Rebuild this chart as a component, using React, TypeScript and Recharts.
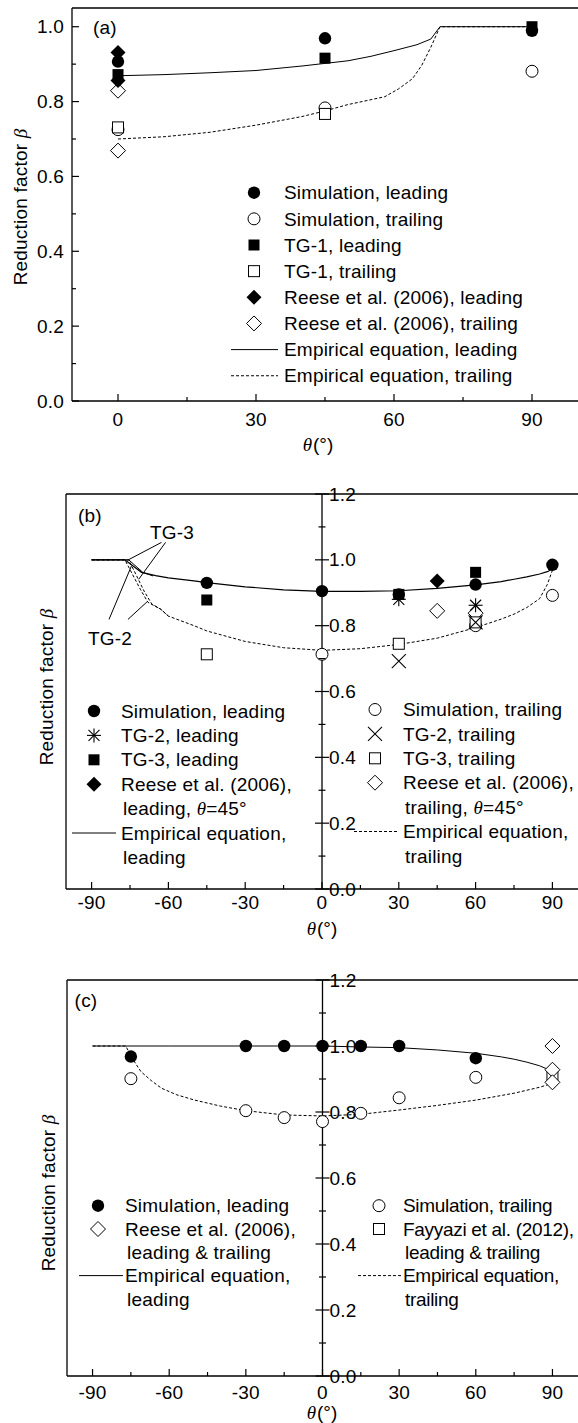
import React from "react";
import {
  ComposedChart,
  Line,
  Scatter,
  XAxis,
  YAxis,
  ReferenceLine,
  Legend,
} from "recharts";

const SANS = "'Liberation Sans', Arial, Helvetica, sans-serif";
const SERIF = "'Liberation Serif', 'DejaVu Serif', 'Times New Roman', serif";
const FS = 19;
const LS = 0.2;
const INK = "#000";
const DASH = "3 2";

// ---------- panel (a) ----------
const A_X_TICKS = [0, 15, 30, 45, 60, 75, 90];
const A_Y_TICKS = [0, 0.1, 0.2, 0.3, 0.4, 0.5, 0.6, 0.7, 0.8, 0.9, 1.0];
const A_THETA = [0, 45, 90];
const A_SIM_LEAD = [0.907, 0.969, 0.989];
const A_SIM_TRAIL = [0.725, 0.783, 0.881];
const A_TG1_LEAD = [0.872, 0.916, 1.0];
const A_TG1_TRAIL_THETA = [0, 45];
const A_TG1_TRAIL = [0.731, 0.767];
const A_REESE_THETA = [0, 0];
const A_REESE_LEAD = [0.931, 0.856];
const A_REESE_TRAIL = [0.829, 0.669];
const A_EMP_LEAD_THETA = [0, 10, 20, 30, 40, 45, 50, 55, 60, 65, 68, 70, 80, 90];
const A_EMP_LEAD = [0.869, 0.872, 0.877, 0.883, 0.895, 0.902, 0.909, 0.921, 0.936, 0.952, 0.967, 1.0, 1.0, 1.0];
const A_EMP_TRAIL_THETA = [0, 10, 20, 30, 40, 45, 50, 55, 58, 61, 64, 66, 68, 70, 80, 90];
const A_EMP_TRAIL = [0.7, 0.706, 0.718, 0.737, 0.76, 0.775, 0.792, 0.805, 0.813, 0.834, 0.861, 0.896, 0.945, 1.0, 1.0, 1.0];

// ---------- panel (b) ----------
const BC_X_TICKS = [-90, -75, -60, -45, -30, -15, 0, 15, 30, 45, 60, 75, 90];
const BC_Y_TICKS = [0, 0.1, 0.2, 0.3, 0.4, 0.5, 0.6, 0.7, 0.8, 0.9, 1.0, 1.1, 1.2];
const B_SIM_THETA = [-45, 0, 30, 60, 90];
const B_SIM_LEAD = [0.93, 0.905, 0.895, 0.925, 0.985];
const B_SIM_TRAIL_THETA = [0, 60, 90];
const B_SIM_TRAIL = [0.713, 0.8, 0.892];
const B_TG2_THETA = [30, 60];
const B_TG2_LEAD = [0.88, 0.862];
const B_TG2_TRAIL = [0.692, 0.81];
const B_TG3_THETA = [-45, 30, 60];
const B_TG3_LEAD = [0.878, 0.895, 0.962];
const B_TG3_TRAIL = [0.713, 0.745, 0.81];
const B_REESE_LEAD_THETA = [45];
const B_REESE_LEAD = [0.936];
const B_REESE_TRAIL_THETA = [45, 60];
const B_REESE_TRAIL = [0.845, 0.838];
const B_EMP_LEAD_THETA = [-90, -77, -70.5, -65, -60, -50, -45, -30, -15, 0, 15, 30, 45, 60, 70, 75, 80, 85, 88, 90];
const B_EMP_LEAD = [1.0, 1.0, 0.962, 0.952, 0.945, 0.936, 0.931, 0.918, 0.909, 0.904, 0.904, 0.906, 0.913, 0.924, 0.934, 0.941, 0.948, 0.957, 0.964, 0.972];
const B_EMP_LEAD2_THETA = [-90, -75.5, -70, -66];
const B_EMP_LEAD2 = [1.0, 1.0, 0.962, 0.951];
const B_EMP_TRAIL_THETA = [-90, -77, -71, -68, -63, -60, -50, -45, -30, -15, 0, 15, 30, 45, 60, 70, 75, 80, 85, 88, 90];
const B_EMP_TRAIL = [1.0, 1.0, 0.911, 0.871, 0.85, 0.829, 0.8, 0.784, 0.752, 0.733, 0.725, 0.73, 0.743, 0.762, 0.794, 0.82, 0.835, 0.855, 0.882, 0.925, 0.968];
const B_EMP_TRAIL2_THETA = [-90, -75.5, -69.5, -66.5, -63, -60];
const B_EMP_TRAIL2 = [1.0, 1.0, 0.905, 0.866, 0.85, 0.829];

// ---------- panel (c) ----------
const C_SIM_THETA = [-75, -30, -15, 0, 15, 30, 60];
const C_SIM_LEAD = [0.968, 1.0, 1.0, 1.0, 1.0, 1.0, 0.963];
const C_SIM_TRAIL = [0.901, 0.804, 0.783, 0.771, 0.796, 0.843, 0.905];
const C_REESE_THETA = [90, 90, 90];
const C_REESE = [1.0, 0.928, 0.89];
const C_FAY_THETA = [90];
const C_FAY = [0.907];
const C_EMP_LEAD_THETA = [-90, -60, -30, 0, 15, 30, 45, 60, 70, 75, 80, 85, 88, 90];
const C_EMP_LEAD = [1.0, 1.0, 1.0, 1.0, 0.997, 0.995, 0.988, 0.978, 0.967, 0.96, 0.951, 0.94, 0.93, 0.922];
const C_EMP_TRAIL_THETA = [-90, -77, -75, -73, -71, -67, -63, -57, -50, -40, -30, -15, 0, 15, 30, 45, 60, 75, 85, 88, 90];
const C_EMP_TRAIL = [1.0, 1.0, 0.97, 0.945, 0.922, 0.895, 0.872, 0.852, 0.836, 0.818, 0.804, 0.791, 0.788, 0.793, 0.806, 0.82, 0.836, 0.857, 0.875, 0.882, 0.892];

// leader lines of the TG-2 / TG-3 callouts, in data units
const TG3_LEADERS = [
  [[-62.7, 1.053], [-75.9, 0.999]],
  [[-61.1, 1.053], [-71.6, 0.941]],
];
const TG2_LEADERS = [
  [[-83.2, 0.819], [-74.4, 0.982]],
  [[-75.8, 0.819], [-68.4, 0.872]],
];

type Kind = "dot" | "ring" | "sq" | "box" | "dia" | "rhomb" | "star" | "cross";
type RowMark = Kind | "solid" | "dashed";
type Row = { mark: RowMark; lines: string[] };

const A_LEGEND: Row[] = [
  { mark: "dot", lines: ["Simulation, leading"] },
  { mark: "ring", lines: ["Simulation, trailing"] },
  { mark: "sq", lines: ["TG-1, leading"] },
  { mark: "box", lines: ["TG-1, trailing"] },
  { mark: "dia", lines: ["Reese et al. (2006), leading"] },
  { mark: "rhomb", lines: ["Reese et al. (2006), trailing"] },
  { mark: "solid", lines: ["Empirical equation, leading"] },
  { mark: "dashed", lines: ["Empirical equation, trailing"] },
];
const B_LEGEND_L: Row[] = [
  { mark: "dot", lines: ["Simulation, leading"] },
  { mark: "star", lines: ["TG-2, leading"] },
  { mark: "sq", lines: ["TG-3, leading"] },
  { mark: "dia", lines: ["Reese et al. (2006),", "leading, θ=45°"] },
  { mark: "solid", lines: ["Empirical equation,", "leading"] },
];
const B_LEGEND_R: Row[] = [
  { mark: "ring", lines: ["Simulation, trailing"] },
  { mark: "cross", lines: ["TG-2, trailing"] },
  { mark: "box", lines: ["TG-3, trailing"] },
  { mark: "rhomb", lines: ["Reese et al. (2006),", "trailing, θ=45°"] },
  { mark: "dashed", lines: ["Empirical equation,", "trailing"] },
];
const C_LEGEND_L: Row[] = [
  { mark: "dot", lines: ["Simulation, leading"] },
  { mark: "rhomb", lines: ["Reese et al. (2006),", "leading & trailing"] },
  { mark: "solid", lines: ["Empirical equation,", "leading"] },
];
const C_LEGEND_R: Row[] = [
  { mark: "ring", lines: ["Simulation, trailing"] },
  { mark: "box", lines: ["Fayyazi et al. (2012),", "leading & trailing"] },
  { mark: "dashed", lines: ["Empirical equation,", "trailing"] },
];

const pts = (xs: number[], ys: number[]) => xs.map((x, i) => ({ x, y: ys[i] }));
const onStep = (v: number, step: number) => Math.abs(v / step - Math.round(v / step)) < 1e-6;

function Mark({ kind, cx, cy }: { kind: Kind; cx: number; cy: number }) {
  const s = 5.5;
  const d = 7.5;
  switch (kind) {
    case "dot":
      return <circle cx={cx} cy={cy} r={6.2} fill={INK} />;
    case "ring":
      return <circle cx={cx} cy={cy} r={6} fill="#fff" stroke={INK} strokeWidth={1} />;
    case "sq":
      return <rect x={cx - s} y={cy - s} width={2 * s} height={2 * s} fill={INK} />;
    case "box":
      return <rect x={cx - s} y={cy - s} width={2 * s} height={2 * s} fill="#fff" stroke={INK} strokeWidth={1} />;
    case "dia":
      return <path d={`M${cx},${cy - d}L${cx + d},${cy}L${cx},${cy + d}L${cx - d},${cy}Z`} fill={INK} />;
    case "rhomb":
      return (
        <path
          d={`M${cx},${cy - d}L${cx + d},${cy}L${cx},${cy + d}L${cx - d},${cy}Z`}
          fill="#fff"
          stroke={INK}
          strokeWidth={1}
        />
      );
    case "star":
      return (
        <g stroke={INK} strokeWidth={1.1}>
          <line x1={cx - 7} x2={cx + 7} y1={cy} y2={cy} />
          <line x1={cx} x2={cx} y1={cy - 7} y2={cy + 7} />
          <line x1={cx - 5.5} x2={cx + 5.5} y1={cy - 5.5} y2={cy + 5.5} />
          <line x1={cx - 5.5} x2={cx + 5.5} y1={cy + 5.5} y2={cy - 5.5} />
        </g>
      );
    default:
      return (
        <g stroke={INK} strokeWidth={1.1}>
          <line x1={cx - 7} x2={cx + 7} y1={cy - 7} y2={cy + 7} />
          <line x1={cx - 7} x2={cx + 7} y1={cy + 7} y2={cy - 7} />
        </g>
      );
  }
}

const shapeOf = (kind: Kind) => (p: any) => <Mark kind={kind} cx={p.cx} cy={p.cy} />;

// text with an italic serif theta
function rich(str: string) {
  return str.split(/(θ)/).map((part, i) =>
    part === "θ" ? (
      <tspan key={i} fontFamily={SERIF} fontStyle="italic">
        θ
      </tspan>
    ) : (
      <tspan key={i}>{part}</tspan>
    )
  );
}

function LegendRows(props: {
  rows: Row[];
  top: number;
  step: number;
  markX: number;
  textX: number;
  lineX1: number;
  lineX2: number;
  spacing?: number;
}) {
  const { rows, top, step, markX, textX, lineX1, lineX2, spacing = LS } = props;
  let n = 0;
  return (
    <g>
      {rows.map((r, i) => {
        const y0 = top + n * step;
        n += r.lines.length;
        return (
          <g key={i}>
            {r.mark === "solid" || r.mark === "dashed" ? (
              <line
                x1={lineX1}
                x2={lineX2}
                y1={y0}
                y2={y0}
                stroke={INK}
                strokeWidth={1}
                strokeDasharray={r.mark === "dashed" ? DASH : undefined}
              />
            ) : (
              <Mark kind={r.mark} cx={markX} cy={y0} />
            )}
            {r.lines.map((t, j) => (
              <text
                key={j}
                x={textX + (j ? 2 : 0)}
                y={y0 + j * step}
                dy="0.35em"
                fontFamily={SANS}
                fontSize={FS}
                letterSpacing={spacing}
                fill={INK}
              >
                {rich(t)}
              </text>
            ))}
          </g>
        );
      })}
    </g>
  );
}

function Overlay({ w, h, children }: { w: number; h: number; children: React.ReactNode }) {
  return (
    <svg width={w} height={h} style={{ position: "absolute", left: 0, top: 0, overflow: "visible" }}>
      {children}
    </svg>
  );
}

const yInTick = (props: any) => {
  const { x, y, payload } = props;
  const v = payload.value as number;
  const major = onStep(v, 0.2);
  return (
    <g>
      <line x1={x} x2={x + (major ? 7 : 4)} y1={y} y2={y} stroke={INK} strokeWidth={1.2} />
      {major && (
        <text x={x - 8} y={y} dy="0.35em" textAnchor="end" fontFamily={SANS} fontSize={FS} letterSpacing={LS} fill={INK}>
          {v.toFixed(1)}
        </text>
      )}
    </g>
  );
};

const yMidTick = (offset: number) => (props: any) => {
  const { x, y, payload } = props;
  const v = payload.value as number;
  const major = onStep(v, 0.2);
  const X = x + offset;
  const len = major ? 7 : 3.5;
  return (
    <g>
      <line x1={X - len} x2={X + len} y1={y} y2={y} stroke={INK} strokeWidth={1.2} />
      {major && (
        <text x={X + 7} y={y} dy="0.35em" fontFamily={SANS} fontSize={FS} letterSpacing={LS} fill={INK}>
          {v.toFixed(1)}
        </text>
      )}
    </g>
  );
};

const xTick = (gap: number) => (props: any) => {
  const { x, y, payload } = props;
  const v = payload.value as number;
  const major = onStep(v, 30);
  return (
    <g>
      <line x1={x} x2={x} y1={y} y2={y - (major ? 7 : 4)} stroke={INK} strokeWidth={1.2} />
      {major && (
        <text x={x} y={y + gap} dy="0.35em" textAnchor="middle" fontFamily={SANS} fontSize={FS} letterSpacing={LS} fill={INK}>
          {v}
        </text>
      )}
    </g>
  );
};

const yTitle = (x: number, y: number) => () =>
  (
    <text
      x={x}
      y={y}
      transform={`rotate(-90 ${x} ${y})`}
      textAnchor="middle"
      dy="0.35em"
      fontFamily={SANS}
      fontSize={FS}
      letterSpacing={LS}
      fill={INK}
    >
      Reduction factor{" "}
      <tspan fontFamily={SERIF} fontStyle="italic">
        β
      </tspan>
    </text>
  );

const xTitle = (x: number, y: number) => () =>
  (
    <text x={x} y={y} dy="0.35em" textAnchor="middle" fontSize={FS} fill={INK}>
      <tspan fontFamily={SERIF} fontStyle="italic">
        θ
      </tspan>
      <tspan fontFamily={SANS} dx={1}>
        (°)
      </tspan>
    </text>
  );

const letter = (x: number, y: number, s: string) => (
  <text x={x} y={y} dy="0.35em" textAnchor="middle" fontFamily={SANS} fontSize={FS} letterSpacing={LS} fill={INK}>
    {s}
  </text>
);

const frame = { stroke: INK, strokeWidth: 1.3 };

function PanelA() {
  return (
    <ComposedChart width={578} height={460} margin={{ top: 8, right: 0, bottom: 0, left: 0 }}>
      <XAxis
        type="number"
        dataKey="x"
        domain={[-10, 100]}
        ticks={A_X_TICKS}
        interval={0}
        tickSize={0}
        tickMargin={0}
        tick={xTick(18)}
        axisLine={frame}
        height={59}
        label={xTitle(318, 444)}
      />
      <YAxis
        type="number"
        dataKey="y"
        domain={[0, 1.05]}
        ticks={A_Y_TICKS}
        interval={0}
        tickSize={0}
        tickMargin={0}
        tick={yInTick}
        axisLine={frame}
        width={72}
        label={yTitle(20, 207)}
      />
      <ReferenceLine y={1.05} stroke={INK} strokeWidth={1.3} />
      <Line data={pts(A_EMP_LEAD_THETA, A_EMP_LEAD)} dataKey="y" type="linear" stroke={INK} strokeWidth={1} dot={false} activeDot={false} isAnimationActive={false} />
      <Line data={pts(A_EMP_TRAIL_THETA, A_EMP_TRAIL)} dataKey="y" type="linear" stroke={INK} strokeWidth={1} strokeDasharray={DASH} dot={false} activeDot={false} isAnimationActive={false} />
      <Scatter data={pts(A_REESE_THETA, A_REESE_TRAIL)} shape={shapeOf("rhomb")} isAnimationActive={false} />
      <Scatter data={pts(A_THETA, A_SIM_TRAIL)} shape={shapeOf("ring")} isAnimationActive={false} />
      <Scatter data={pts(A_TG1_TRAIL_THETA, A_TG1_TRAIL)} shape={shapeOf("box")} isAnimationActive={false} />
      <Scatter data={pts(A_REESE_THETA, A_REESE_LEAD)} shape={shapeOf("dia")} isAnimationActive={false} />
      <Scatter data={pts(A_THETA, A_SIM_LEAD)} shape={shapeOf("dot")} isAnimationActive={false} />
      <Scatter data={pts(A_THETA, A_TG1_LEAD)} shape={shapeOf("sq")} isAnimationActive={false} />
      <Legend
        layout="vertical"
        align="center"
        verticalAlign="middle"
        wrapperStyle={{ left: 0, top: 0, width: 578, height: 460 }}
        content={() => (
          <Overlay w={578} h={460}>
            {letter(105, 27, "(a)")}
            <LegendRows rows={A_LEGEND} top={192.7} step={26.15} markX={254} textX={284} lineX1={231} lineX2={278} />
          </Overlay>
        )}
      />
    </ComposedChart>
  );
}

function PanelB() {
  const W = 578;
  const H = 470;
  const left = 66;
  return (
    <ComposedChart width={W} height={H} margin={{ top: 24, right: 0, bottom: 0, left: 0 }}>
      <XAxis
        type="number"
        dataKey="x"
        domain={[-100, 100]}
        ticks={BC_X_TICKS}
        interval={0}
        tickSize={0}
        tickMargin={0}
        tick={xTick(13)}
        axisLine={frame}
        height={51}
        label={xTitle(322, 458)}
      />
      <YAxis
        type="number"
        dataKey="y"
        domain={[0, 1.2]}
        ticks={BC_Y_TICKS}
        interval={0}
        tickSize={0}
        tickMargin={0}
        tick={yMidTick((W - left) / 2)}
        axisLine={frame}
        width={left}
        label={yTitle(46, 217)}
      />
      <ReferenceLine y={1.2} stroke={INK} strokeWidth={1.3} />
      <ReferenceLine x={0} stroke={INK} strokeWidth={1.3} />
      {TG3_LEADERS.concat(TG2_LEADERS).map((seg, i) => (
        <ReferenceLine
          key={i}
          segment={[
            { x: seg[0][0], y: seg[0][1] },
            { x: seg[1][0], y: seg[1][1] },
          ]}
          stroke={INK}
          strokeWidth={1}
        />
      ))}
      <Line data={pts(B_EMP_LEAD_THETA, B_EMP_LEAD)} dataKey="y" type="linear" stroke={INK} strokeWidth={1.2} dot={false} activeDot={false} isAnimationActive={false} />
      <Line data={pts(B_EMP_LEAD2_THETA, B_EMP_LEAD2)} dataKey="y" type="linear" stroke={INK} strokeWidth={1} dot={false} activeDot={false} isAnimationActive={false} />
      <Line data={pts(B_EMP_TRAIL_THETA, B_EMP_TRAIL)} dataKey="y" type="linear" stroke={INK} strokeWidth={1} strokeDasharray={DASH} dot={false} activeDot={false} isAnimationActive={false} />
      <Line data={pts(B_EMP_TRAIL2_THETA, B_EMP_TRAIL2)} dataKey="y" type="linear" stroke={INK} strokeWidth={1} strokeDasharray={DASH} dot={false} activeDot={false} isAnimationActive={false} />
      <Scatter data={pts(B_SIM_TRAIL_THETA, B_SIM_TRAIL)} shape={shapeOf("ring")} isAnimationActive={false} />
      <Scatter data={pts(B_REESE_TRAIL_THETA, B_REESE_TRAIL)} shape={shapeOf("rhomb")} isAnimationActive={false} />
      <Scatter data={pts(B_TG3_THETA, B_TG3_TRAIL)} shape={shapeOf("box")} isAnimationActive={false} />
      <Scatter data={pts(B_TG2_THETA, B_TG2_TRAIL)} shape={shapeOf("cross")} isAnimationActive={false} />
      <Scatter data={pts(B_TG2_THETA, B_TG2_LEAD)} shape={shapeOf("star")} isAnimationActive={false} />
      <Scatter data={pts(B_TG3_THETA, B_TG3_LEAD)} shape={shapeOf("sq")} isAnimationActive={false} />
      <Scatter data={pts(B_REESE_LEAD_THETA, B_REESE_LEAD)} shape={shapeOf("dia")} isAnimationActive={false} />
      <Scatter data={pts(B_SIM_THETA, B_SIM_LEAD)} shape={shapeOf("dot")} isAnimationActive={false} />
      <Legend
        layout="vertical"
        align="center"
        verticalAlign="middle"
        wrapperStyle={{ left: 0, top: 0, width: W, height: H }}
        content={() => (
          <Overlay w={W} h={H}>
            {letter(90, 45, "(b)")}
            {letter(172, 62, "TG-3")}
            {letter(110, 168, "TG-2")}
            <LegendRows rows={B_LEGEND_L} top={241} step={24.4} markX={94} textX={121} lineX1={72} lineX2={116} />
            <LegendRows rows={B_LEGEND_R} top={239.5} step={24.4} markX={375} textX={403} lineX1={354} lineX2={398} />
          </Overlay>
        )}
      />
    </ComposedChart>
  );
}

function PanelC() {
  const W = 578;
  const H = 473;
  const left = 67;
  return (
    <ComposedChart width={W} height={H} margin={{ top: 30, right: 0, bottom: 0, left: 0 }}>
      <XAxis
        type="number"
        dataKey="x"
        domain={[-100, 100]}
        ticks={BC_X_TICKS}
        interval={0}
        tickSize={0}
        tickMargin={0}
        tick={xTick(16)}
        axisLine={frame}
        height={47}
        label={xTitle(322, 462)}
      />
      <YAxis
        type="number"
        dataKey="y"
        domain={[0, 1.2]}
        ticks={BC_Y_TICKS}
        interval={0}
        tickSize={0}
        tickMargin={0}
        tick={yMidTick((W - left) / 2)}
        axisLine={frame}
        width={left}
        label={yTitle(48, 243)}
      />
      <ReferenceLine y={1.2} stroke={INK} strokeWidth={1.3} />
      <ReferenceLine x={0} stroke={INK} strokeWidth={1.3} />
      <Line data={pts(C_EMP_LEAD_THETA, C_EMP_LEAD)} dataKey="y" type="linear" stroke={INK} strokeWidth={1} dot={false} activeDot={false} isAnimationActive={false} />
      <Line data={pts(C_EMP_TRAIL_THETA, C_EMP_TRAIL)} dataKey="y" type="linear" stroke={INK} strokeWidth={1} strokeDasharray={DASH} dot={false} activeDot={false} isAnimationActive={false} />
      <Scatter data={pts(C_SIM_THETA, C_SIM_TRAIL)} shape={shapeOf("ring")} isAnimationActive={false} />
      <Scatter data={pts(C_FAY_THETA, C_FAY)} shape={shapeOf("box")} isAnimationActive={false} />
      <Scatter data={pts(C_REESE_THETA, C_REESE)} shape={shapeOf("rhomb")} isAnimationActive={false} />
      <Scatter data={pts(C_SIM_THETA, C_SIM_LEAD)} shape={shapeOf("dot")} isAnimationActive={false} />
      <Legend
        layout="vertical"
        align="center"
        verticalAlign="middle"
        wrapperStyle={{ left: 0, top: 0, width: W, height: H }}
        content={() => (
          <Overlay w={W} h={H}>
            {letter(86, 50, "(c)")}
            <LegendRows rows={C_LEGEND_L} top={255.7} step={23.3} markX={98} textX={125} lineX1={79} lineX2={123} />
            <LegendRows rows={C_LEGEND_R} top={255.7} step={23.3} markX={379} textX={403} lineX1={358} lineX2={401} spacing={-0.3} />
          </Overlay>
        )}
      />
    </ComposedChart>
  );
}

export default function App() {
  return (
    <div style={{ position: "relative", width: 578, height: 1423, overflow: "hidden", background: "#fff" }}>
      <style>{"body{margin:0}"}</style>
      <div style={{ position: "absolute", left: 0, top: 0 }}>
        <PanelA />
      </div>
      <div style={{ position: "absolute", left: 0, top: 470 }}>
        <PanelB />
      </div>
      <div style={{ position: "absolute", left: 0, top: 950 }}>
        <PanelC />
      </div>
    </div>
  );
}
